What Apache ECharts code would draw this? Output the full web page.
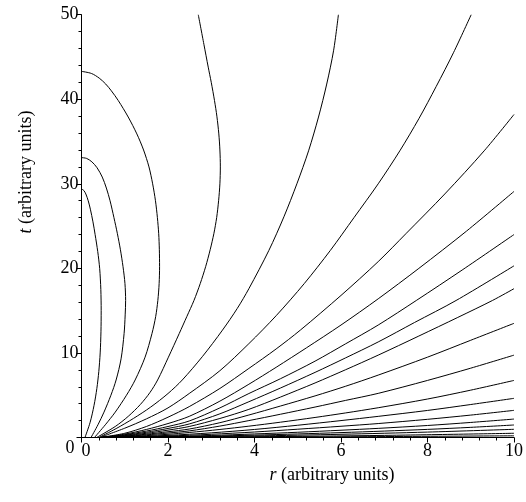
<!DOCTYPE html>
<html>
<head>
<meta charset="utf-8">
<script src="https://cdn.jsdelivr.net/npm/echarts@6/dist/echarts.min.js"></script>
<style>
  html, body { margin: 0; padding: 0; background: #fff; }
  #chart { width: 526px; height: 502px; }
</style>
</head>
<body>
<div id="chart"></div>
<script>
// each curve is a list of [r, t] points
// loops that bend back to the t axis
var loopA = [[0.08,0],[0.2,1.8],[0.29,3.8],[0.355,5.8],[0.4,7.8],[0.432,10],[0.45,12.5],[0.455,15],[0.447,17.5],[0.42,20],[0.375,22],[0.315,24],[0.265,25.5],[0.205,27],[0.155,28],[0.1,28.8],[0.055,29.2],[0,29.4]];
var loopB = [[0.22,0],[0.38,1.5],[0.52,3],[0.68,5],[0.8,6.8],[0.915,9.3],[0.985,12.3],[1.01,14.5],[1.02,16.2],[1.005,18.2],[0.96,20.2],[0.9,22.2],[0.83,24.1],[0.75,26],[0.66,28],[0.575,29.5],[0.48,30.8],[0.36,31.9],[0.24,32.6],[0.12,33.0],[0,33.1]];
var loopC = [[0.3,0],[0.55,1.5],[0.78,3],[1.04,5],[1.24,6.8],[1.47,9.5],[1.63,12.3],[1.715,14.3],[1.765,16.2],[1.795,18.2],[1.805,20.2],[1.8,22.2],[1.785,24.1],[1.755,26],[1.71,28],[1.645,30],[1.56,32],[1.435,34],[1.28,35.9],[1.08,37.9],[0.85,39.85],[0.69,41],[0.56,41.8],[0.41,42.5],[0.23,43.05],[0,43.3]];
var loopD = [[0.35,0],[0.78,1.3],[1.08,2.5],[1.36,3.9],[1.58,5.3],[1.76,6.8],[2.01,9.5],[2.26,12.3],[2.435,14.3],[2.6,16.2],[2.745,18.2],[2.87,20.2],[2.975,22.2],[3.06,24.1],[3.125,26],[3.17,28],[3.2,30],[3.21,32],[3.2,34],[3.175,35.9],[3.13,38],[3.075,39.85],[3.0,42],[2.93,43.8],[2.83,46.5],[2.7,50]];
// curves that run out through the top or the right edge
var curveE = [[0.4,0],[0.8,1.05],[1.2,2.25],[1.6,3.6],[2.0,5.2],[2.33,6.8],[2.8,9.6],[3.26,12.7],[3.6,15.25],[3.87,17.6],[4.33,22.1],[4.68,26.1],[4.98,30],[5.25,33.9],[5.48,37.9],[5.67,41.8],[5.83,45.8],[5.94,50]];
var curveF = [[0.42,0],[1.0,1.1],[1.5,2.2],[2.0,3.5],[2.49,5.2],[3.2,7.9],[3.87,11.1],[4.5,14.4],[5.15,18.2],[5.75,22.1],[6.3,26],[6.86,30],[7.36,33.9],[7.8,37.7],[8.2,41.5],[8.6,45.5],[9.01,50]];
var curveG = [[0.43,0],[1.0,0.5],[1.5,1.3],[2.0,2.4],[2.49,3.65],[3.2,5.8],[3.87,8.17],[4.5,10.47],[5.06,12.7],[6.0,16.8],[6.86,20.8],[7.5,24.1],[8.4,28.8],[9.31,33.9],[10,38.2]];
var curveH = [[0.44,0],[1.0,0.4],[1.5,0.95],[2.0,1.65],[2.49,2.5],[3.2,4.3],[3.87,6.3],[4.5,8.3],[5.2,10.6],[6.0,13.3],[6.86,16.4],[7.8,20.0],[8.9,24.4],[10,29.1]];
var curveI = [[0.45,0],[1.0,0.33],[1.5,0.76],[2.0,1.3],[2.49,1.95],[3.2,3.5],[3.87,5.2],[4.6,6.95],[5.4,9.03],[6.1,11.06],[6.86,13.3],[7.74,16.2],[8.8,19.8],[10,24.0]];
var curveJ = [[0.46,0],[1.0,0.27],[1.5,0.62],[2.0,1.07],[2.49,1.6],[3.2,2.8],[3.87,4.23],[4.6,5.85],[5.4,7.7],[6.1,9.4],[6.86,11.3],[7.7,13.6],[8.66,16.2],[10,20.3]];
var curveK = [[0.47,0],[1.0,0.22],[1.5,0.5],[2.0,0.87],[2.49,1.3],[3.2,2.25],[3.87,3.33],[4.6,4.78],[5.4,6.45],[6.1,8.0],[6.86,9.74],[7.8,12.0],[8.7,14.2],[9.5,16.2],[10,17.6]];
var curveL = [[0.48,0],[1.0,0.17],[1.5,0.39],[2.0,0.68],[2.49,1.0],[3.2,1.75],[3.87,2.66],[4.6,3.72],[5.4,4.92],[6.1,6.05],[6.86,7.38],[8.0,9.5],[9.0,11.5],[10,13.5]];
var curveM = [[0.49,0],[1.0,0.13],[1.5,0.31],[2.0,0.53],[2.49,0.78],[3.2,1.35],[3.87,2.0],[4.6,2.75],[5.4,3.6],[6.1,4.38],[6.86,5.22],[8.0,6.75],[9.0,8.2],[10,9.74]];
var curveN = [[0.5,0],[1.0,0.08],[2.0,0.38],[2.49,0.59],[3.2,0.95],[3.87,1.34],[4.6,1.81],[5.4,2.37],[6.1,2.9],[6.86,3.52],[8.0,4.55],[9.0,5.6],[10,6.75]];
var curveO = [[0.5,0],[1.0,0.05],[2.0,0.25],[3.0,0.55],[4.0,0.95],[5.0,1.45],[6.0,2.0],[6.86,2.5],[8.0,3.2],[9.0,3.9],[10,4.63]];
var curveP = [[0.5,0],[1.0,0.04],[2.0,0.17],[3.0,0.38],[4.0,0.65],[5.0,0.98],[6.0,1.33],[6.86,1.65],[8.0,2.15],[9.0,2.65],[10,3.21]];
var curveQ = [[0.5,0],[1.0,0.03],[2.0,0.11],[3.0,0.24],[4.0,0.42],[5.0,0.62],[6.0,0.86],[6.86,1.08],[8.0,1.42],[9.0,1.78],[10,2.18]];
var curveR = [[0.5,0],[2.0,0.07],[3.0,0.16],[4.0,0.28],[5.0,0.42],[6.0,0.58],[7.0,0.76],[8.0,0.96],[9.0,1.2],[10,1.48]];
var curveS = [[0.5,0],[2.0,0.05],[4.0,0.18],[6.0,0.38],[8.0,0.64],[10,0.97]];
var curveT = [[0.5,0],[4.0,0.09],[7.0,0.25],[10,0.5]];
var curveU = [[0.5,0],[5.0,0.06],[10,0.2]];

var xTicks = [0, 2, 4, 6, 8, 10];
var yTicks = [0, 10, 20, 30, 40, 50];
var xName = 'r';
var yName = 't';
var unitText = ' (arbitrary units)';

var allCurves = [loopA, loopB, loopC, loopD, curveE, curveF, curveG, curveH, curveI, curveJ,
                 curveK, curveL, curveM, curveN, curveO, curveP, curveQ, curveR, curveS, curveT, curveU];

var serif = 'Liberation Serif';

var Chart = echarts.init(document.getElementById('chart'));

var seriesList = [];
for (var i = 0; i < allCurves.length; i++) {
    seriesList.push({
        type: 'line',
        data: allCurves[i],
        smooth: 0.3,
        showSymbol: false,
        silent: true,
        lineStyle: { color: '#000', width: 1 }
    });
}

Chart.setOption({
    animation: false,
    backgroundColor: '#fff',
    grid: { left: 81.5, right: 9.5, top: 14.7, bottom: 64.5 },
    xAxis: {
        type: 'value',
        min: xTicks[0],
        max: xTicks[xTicks.length - 1],
        interval: xTicks[1] - xTicks[0],
        axisLine: { lineStyle: { color: '#000', width: 1 } },
        axisTick: { length: 5, lineStyle: { color: '#000' } },
        minorTick: { show: true, splitNumber: 5, length: 3, lineStyle: { color: '#000' } },
        splitLine: { show: false },
        axisLabel: {
            margin: 5,
            color: '#000',
            fontFamily: serif,
            fontSize: 18,
            formatter: function (v) { return v === 0 ? '{z|0}' : String(v); },
            rich: { z: { fontFamily: serif, fontSize: 18, color: '#000', padding: [0, 0, 0, 9] } }
        }
    },
    yAxis: {
        type: 'value',
        min: yTicks[0],
        max: yTicks[yTicks.length - 1],
        interval: yTicks[1] - yTicks[0],
        axisLine: { lineStyle: { color: '#000', width: 1 } },
        axisTick: { length: 5, lineStyle: { color: '#000' } },
        minorTick: { show: true, splitNumber: 5, length: 3, lineStyle: { color: '#000' } },
        splitLine: { show: false },
        axisLabel: {
            margin: 3,
            color: '#000',
            fontFamily: serif,
            fontSize: 18,
            formatter: function (v) { return v === 0 ? '{z|0}' : String(v); },
            rich: { z: { fontFamily: serif, fontSize: 18, color: '#000', padding: [22, 4, 0, 0] } }
        }
    },
    graphic: [
        {
            type: 'text',
            x: 332, y: 475,
            style: {
                text: '{i|' + xName + '}' + unitText,
                fontFamily: serif, fontSize: 18, fill: '#000',
                align: 'center', verticalAlign: 'middle',
                rich: { i: { fontFamily: serif, fontSize: 18, fontStyle: 'italic', fill: '#000' } }
            }
        },
        {
            type: 'text',
            x: 26, y: 172,
            rotation: Math.PI / 2,
            style: {
                text: '{i|' + yName + '}' + unitText,
                fontFamily: serif, fontSize: 18, fill: '#000',
                align: 'center', verticalAlign: 'middle',
                rich: { i: { fontFamily: serif, fontSize: 18, fontStyle: 'italic', fill: '#000' } }
            }
        }
    ],
    series: seriesList
});
</script>
</body>
</html>
